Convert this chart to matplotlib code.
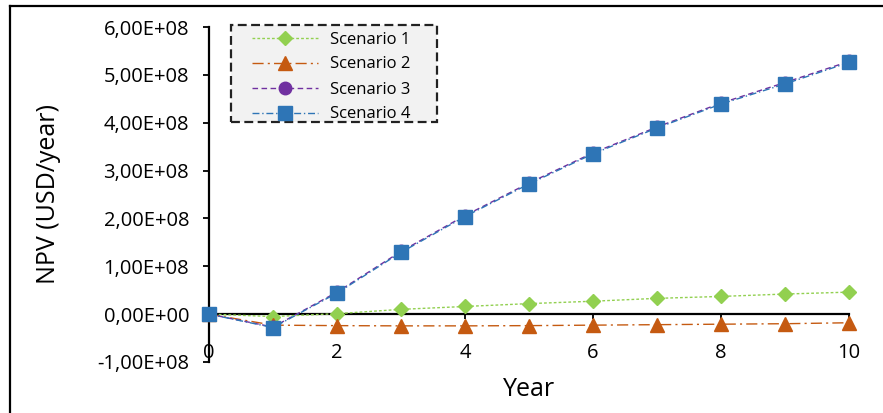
import matplotlib
matplotlib.use("Agg")
import matplotlib.pyplot as plt
from matplotlib.lines import Line2D
from matplotlib.patches import Rectangle
from matplotlib.ticker import FuncFormatter

plt.rcParams['font.family'] = ['Open Sans', 'DejaVu Sans']

years = [0, 1, 2, 3, 4, 5, 6, 7, 8, 9, 10]
scenario_1 = [0.0, -0.05e8, 0.01e8, 0.10e8, 0.16e8, 0.22e8, 0.27e8, 0.33e8, 0.37e8, 0.42e8, 0.46e8]
scenario_2 = [0.0, -0.23e8, -0.24e8, -0.245e8, -0.245e8, -0.24e8, -0.23e8, -0.22e8, -0.21e8, -0.20e8, -0.18e8]
scenario_3 = [0.0, -0.27e8, 0.46e8, 1.31e8, 2.06e8, 2.74e8, 3.37e8, 3.91e8, 4.41e8, 4.84e8, 5.28e8]
scenario_4 = [0.0, -0.28e8, 0.44e8, 1.29e8, 2.04e8, 2.72e8, 3.35e8, 3.89e8, 4.39e8, 4.81e8, 5.26e8]
labels = ["Scenario 1", "Scenario 2", "Scenario 3", "Scenario 4"]

y_ticks = [-1e8, 0, 1e8, 2e8, 3e8, 4e8, 5e8, 6e8]
x_ticks = [0, 2, 4, 6, 8, 10]

W, H = 883, 413
fig = plt.figure(figsize=(W / 100, H / 100), dpi=100)
ax_left, ax_right, ax_top, ax_bottom = 209, 849, 27, 362
ax = fig.add_axes([ax_left / W, 1 - ax_bottom / H,
                   (ax_right - ax_left) / W, (ax_bottom - ax_top) / H])
aw, ah = ax_right - ax_left, ax_bottom - ax_top

styles = [
    dict(color="#92d050", marker="D", ms=7.5, ls=(0, (2, 1.5)), lw=1.0),
    dict(color="#c55a11", marker="^", ms=9.5, ls=(0, (8, 3, 1.5, 3)), lw=1.0),
    dict(color="#7030a0", marker="o", ms=9, ls=(0, (4, 2.5)), lw=1.0),
    dict(color="#2e75b6", marker="s", ms=9.5, ls=(0, (5, 2, 1, 2)), lw=1.0),
]
series = [scenario_1, scenario_2, scenario_3, scenario_4]
for vals, st, lab in zip(series, styles, labels):
    ax.plot(years, vals, label=lab, clip_on=False, zorder=3,
            color=st["color"], marker=st["marker"], ms=st["ms"],
            ls=st["ls"], lw=st["lw"], mec=st["color"], mfc=st["color"])

ax.set_xlim(0, 10)
ax.set_ylim(-1e8, 6e8)

for s in ["top", "right"]:
    ax.spines[s].set_visible(False)
ax.spines["bottom"].set_position(("data", 0))
ax.spines["bottom"].set_linewidth(1.6)
ax.spines["left"].set_linewidth(1.6)
ax.spines["bottom"].set_zorder(2)

ax.set_yticks(y_ticks)
ax.yaxis.set_major_formatter(FuncFormatter(
    lambda v, p: ("{:.2E}".format(v)).replace(".", ",")))
ax.set_xticks(x_ticks)
ax.tick_params(axis="y", direction="out", length=4.3, width=1.3, labelsize=14.5, pad=10)
ax.tick_params(axis="x", direction="out", length=3.6, width=1.3, labelsize=14.5, pad=17)

ax.set_xlabel("Year", fontsize=18)
ax.xaxis.set_label_coords(0.5, -0.045)
ax.set_ylabel("NPV (USD/year)", fontsize=18)
ax.yaxis.set_label_coords(-0.231, 0.5)

# legend box: grey fill with dashed border
box = Rectangle(((231 - ax_left) / aw, (ax_bottom - 122) / ah),
                206 / aw, 97 / ah, transform=ax.transAxes,
                facecolor="#f2f2f2", edgecolor="#222222",
                linestyle=(0, (4, 2)), linewidth=1.6, zorder=4, clip_on=False)
ax.add_patch(box)
leg = ax.legend(loc="upper left",
                bbox_to_anchor=((252 - ax_left) / aw, (ax_bottom - 31.5) / ah),
                fontsize=12, frameon=False, handlelength=3.95,
                borderpad=0.0, borderaxespad=0.0, labelspacing=0.54,
                handletextpad=0.72)
leg.set_zorder(5)

# chart border along the top and left edges
fig.add_artist(Line2D([10 / W, 1.0], [1 - 5.5 / H, 1 - 5.5 / H],
                      transform=fig.transFigure, color="black", lw=1.6))
fig.add_artist(Line2D([10 / W, 10 / W], [0, 1 - 5.5 / H],
                      transform=fig.transFigure, color="black", lw=1.6))

fig.savefig("out.png", dpi=100)
